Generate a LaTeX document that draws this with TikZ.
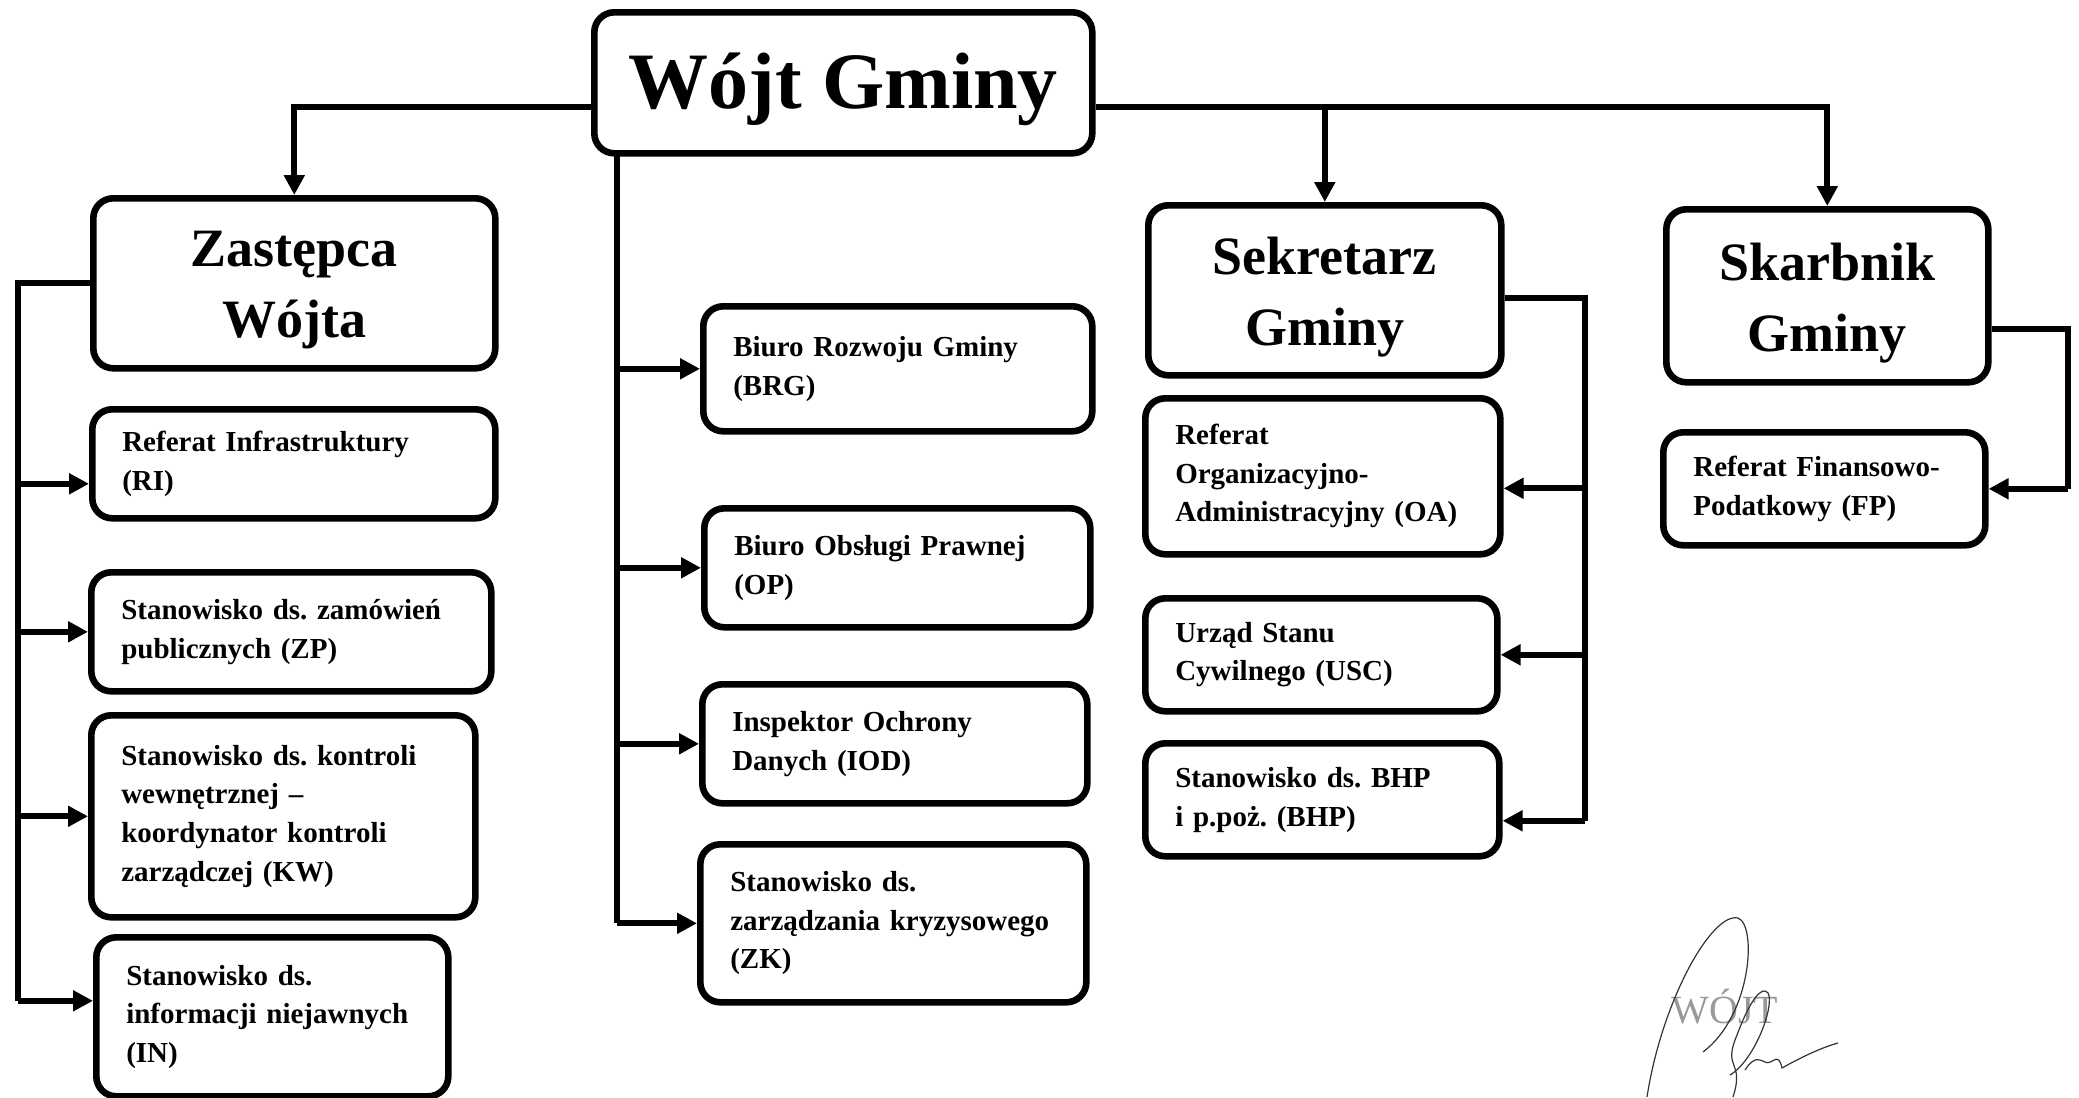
\documentclass[tikz,border=0pt]{standalone}
\usepackage{fontspec}
\setmainfont{Liberation Serif}
\frenchspacing
\usetikzlibrary{arrows.meta}
\newcommand\obox[7]{%
  \pgfmathsetmacro\bw{(#5-#3)*0.5}%
  \pgfmathsetmacro\bh{(#6-#4)*0.5}%
  \pgfmathsetmacro\tw{\bw-30}%
  \node[#1, minimum width=\bw pt, minimum height=\bh pt, text width=\tw pt, anchor=north west] (#2) at (#3,#4) {#7};}
\newcommand\bbox[8]{%
  \pgfmathsetmacro\bw{(#5-#3)*0.5}%
  \pgfmathsetmacro\bh{(#6-#4)*0.5}%
  \node[#1, minimum width=\bw pt, minimum height=\bh pt, anchor=north west] (#2) at (#3,#4) {};
  \node[#7] (#2-t) at ([yshift=-3.5pt]#2.center) {#8};}
\tikzset{
  ln/.style={line width=3pt},
  arr/.style={line width=3pt, -{Triangle[length=10pt,width=10pt]}},
  frame/.style={draw, line width=3.3pt, rounded corners=10pt, inner sep=0pt},
  bigtext/.style={align=center, inner sep=0pt, font=\fontsize{27}{35.5}\selectfont\bfseries},
  toptext/.style={align=center, inner sep=0pt, font=\fontsize{40}{48}\selectfont\bfseries},
  sbox/.style={draw, line width=3.3pt, rounded corners=10pt, align=left, inner xsep=15pt, inner ysep=2pt,
     font=\fontsize{14.5}{19.3}\selectfont\bfseries},
  sig/.style={line width=0.6pt, black!80}
}
\begin{document}
\begin{tikzpicture}[x=0.5pt,y=-0.5pt]
\useasboundingbox (0,0) rectangle (2079,1098);
% boxes
\bbox{frame}{wojt}{591}{9}{1089}{150}{toptext}{Wójt Gminy}
\bbox{frame}{zast}{90}{195}{492}{365}{bigtext}{Zastępca\\Wójta}
\bbox{frame}{sek}{1145}{202}{1498}{372}{bigtext}{Sekretarz\\Gminy}
\bbox{frame}{skar}{1663}{206}{1985}{379}{bigtext}{Skarbnik\\Gminy}
\obox{sbox}{ri}{89}{406}{492}{515}{Referat Infrastruktury\\(RI)}
\obox{sbox}{zp}{88}{569}{488}{688}{Stanowisko ds. zamówień\\publicznych (ZP)}
\obox{sbox}{kw}{88}{712}{472}{914}{Stanowisko ds. kontroli\\wewnętrznej –\\koordynator kontroli\\zarządczej (KW)}
\obox{sbox}{in}{93}{934}{445}{1093}{Stanowisko ds.\\informacji niejawnych\\(IN)}
\obox{sbox}{brg}{700}{303}{1089}{428}{Biuro Rozwoju Gminy\\(BRG)}
\obox{sbox}{op}{701}{505}{1087}{624}{Biuro Obsługi Prawnej\\(OP)}
\obox{sbox}{iod}{699}{681}{1084}{800}{Inspektor Ochrony\\Danych (IOD)}
\obox{sbox}{zk}{697}{841}{1083}{999}{Stanowisko ds.\\zarządzania kryzysowego\\(ZK)}
\obox{sbox}{oa}{1142}{395}{1497}{551}{Referat\\Organizacyjno-\\Administracyjny (OA)}
\obox{sbox}{usc}{1142}{595}{1494}{708}{Urząd Stanu\\Cywilnego (USC)}
\obox{sbox}{bhp}{1142}{740}{1496}{853}{Stanowisko ds. BHP\\i p.poż. (BHP)}
\obox{sbox}{fp}{1660}{429}{1982}{542}{Referat Finansowo-\\Podatkowy (FP)}
% top connectors
\coordinate (wl) at ([yshift=-12pt]wojt.west);
\coordinate (wr) at ([yshift=-12pt]wojt.east);
\draw[arr] (wl) -| (zast.north);
\draw[arr] (wr) -| (skar.north);
\draw[arr] (sek.north |- wr) -- (sek.north);
% middle trunk
\coordinate (mt) at (617,150);
\draw[ln] (mt) -- (mt |- zk.west);
\draw[arr] (mt |- brg.west) -- (brg.west);
\draw[arr] (mt |- op.west) -- (op.west);
\draw[arr] (mt |- iod.west) -- (iod.west);
\draw[arr] (mt |- zk.west) -- (zk.west);
% left trunk
\coordinate (lt) at (18,0);
\coordinate (ria) at ([yshift=-10pt]ri.west);
\coordinate (ina) at ([yshift=8pt]in.west);
\draw[ln] (zast.west) -- (zast.west -| lt) -- (lt |- ina);
\draw[arr] (lt |- ria) -- (ria);
\draw[arr] (lt |- zp.west) -- (zp.west);
\draw[arr] (lt |- kw.west) -- (kw.west);
\draw[arr] (lt |- ina) -- (ina);
% sekretarz trunk
\coordinate (st) at (1585,0);
\coordinate (sa) at ([yshift=-4pt]sek.east);
\coordinate (oaa) at ([yshift=-6pt]oa.east);
\coordinate (bhpa) at ([yshift=-10.5pt]bhp.east);
\draw[ln] (sa) -- (sa -| st) -- (st |- bhpa);
\draw[arr] (st |- oaa) -- (oaa);
\draw[arr] (st |- usc.east) -- (usc.east);
\draw[arr] (st |- bhpa) -- (bhpa);
% skarbnik trunk
\coordinate (kt) at (2068,0);
\coordinate (ka) at ([yshift=-16.5pt]skar.east);
\draw[ln] (ka) -- (ka -| kt) -- (kt |- fp.east);
\draw[arr] (kt |- fp.east) -- (fp.east);
% signature
\node[text=black!40, font=\fontsize{20}{20}\selectfont] (stamp) at (1725,1007) {WÓJT};
\draw[sig] (1647,1097) .. controls (1662,1000) and (1712,912) .. (1738,918) .. controls (1757,925) and (1752,1015) .. (1703,1052);
\draw[sig] (1733,1097) .. controls (1745,1060) and (1722,1070) .. (1737,1035) .. controls (1750,1000) and (1762,985) .. (1768,993) .. controls (1775,1005) and (1755,1060) .. (1730,1075);
\draw[sig] (1745,1070) .. controls (1755,1055) and (1760,1060) .. (1765,1062) .. controls (1772,1066) and (1778,1050) .. (1782,1068) .. controls (1800,1058) and (1820,1048) .. (1838,1043);
\end{tikzpicture}
\end{document}
